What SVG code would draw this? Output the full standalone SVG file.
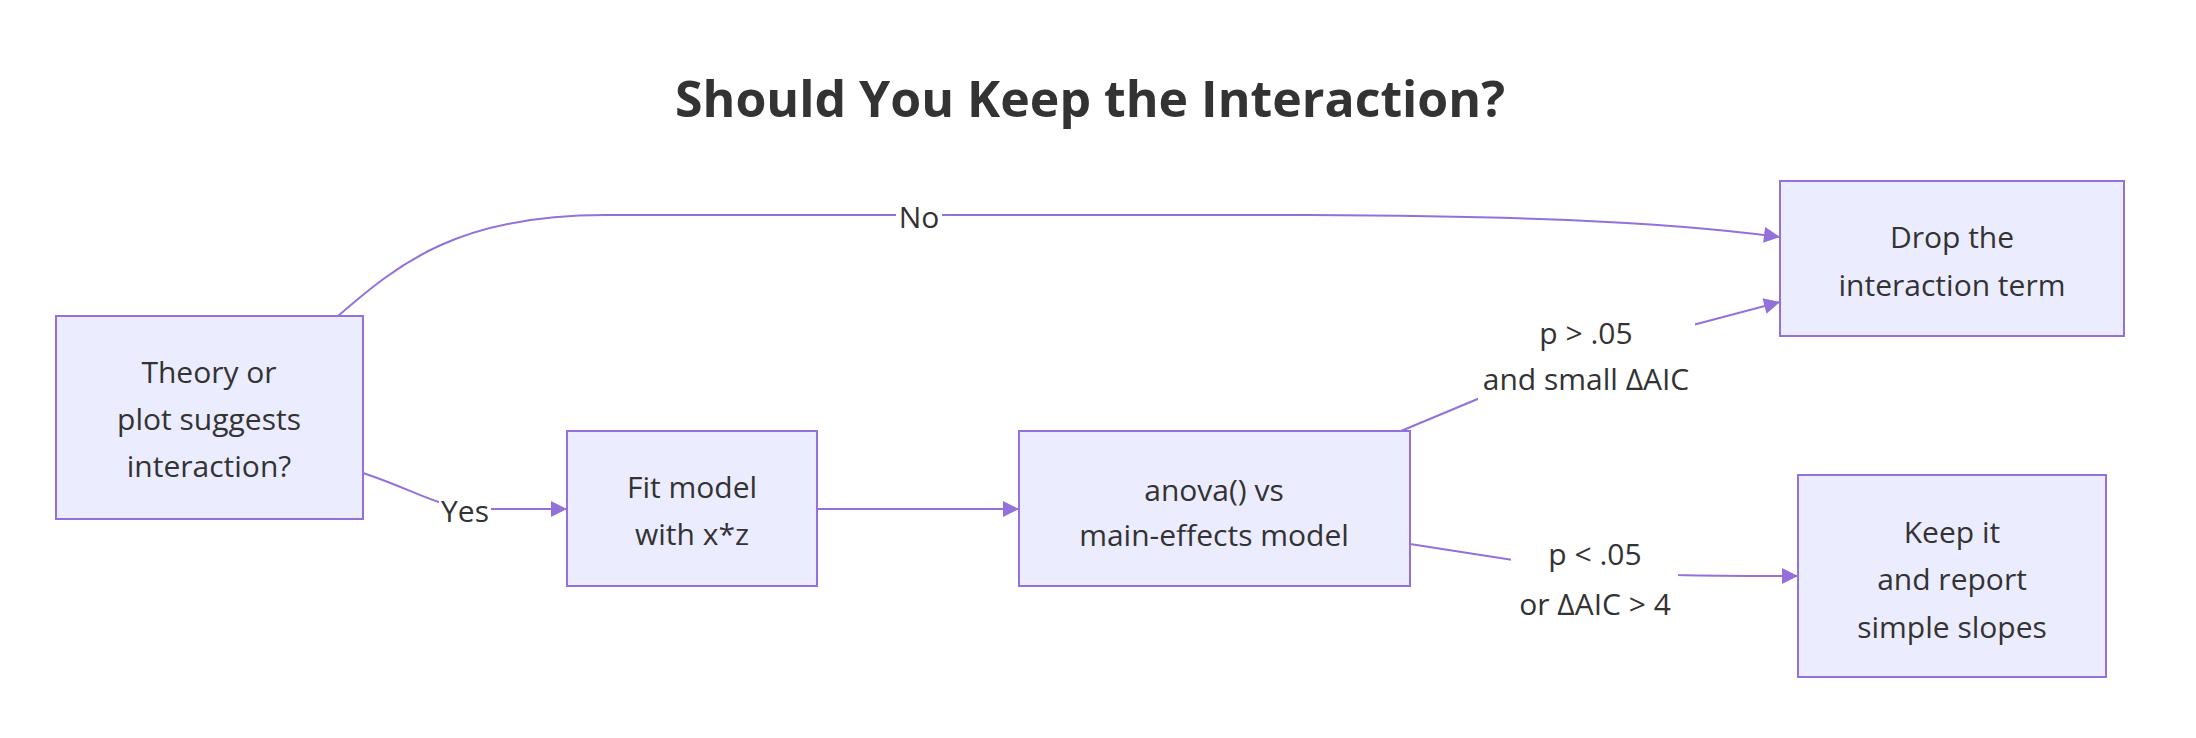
<svg xmlns="http://www.w3.org/2000/svg" width="2196" height="738" viewBox="0 0 2196 738">
<style>
.n rect{fill:#ECECFF;stroke:#9370DB;stroke-width:2}
text{font-family:"Open Sans","Liberation Sans",sans-serif;fill:#333;font-size:30px;text-anchor:middle;dominant-baseline:central}
.e path{fill:none;stroke:#9370DB;stroke-width:2}
.lb{fill:#fff}
</style>
<defs><marker id="a" viewBox="0 0 10 10" refX="10" refY="5" markerWidth="8" markerHeight="8" markerUnits="userSpaceOnUse" orient="auto" overflow="visible"><path d="M0,0L10,5L0,10z" fill="#9370DB" transform="scale(2) translate(-5,-2.5)"/></marker></defs>
<rect width="2196" height="738" fill="#fff"/>
<text x="1090" y="98" style="font-size:50px;font-weight:bold">Should You Keep the Interaction?</text>
<g class="e">
<path d="M338,316 C400,262 460,215 605,215 L1310,215 C1500,216 1650,220 1780,237" marker-end="url(#a)"/>
<path d="M363,473 C420,492 440,509 480,509 L567,509" marker-end="url(#a)"/>
<path d="M817,509 L1019,509" marker-end="url(#a)"/>
<path d="M1401,431 L1480,398 M1480,398 L1693,325 L1780,302" marker-end="url(#a)"/>
<path d="M1410,544 L1513,560 L1676,575 C1720,576 1760,576 1798,576" marker-end="url(#a)"/>
<rect class="lb" x="896" y="199" width="46" height="32"/>
<text x="919" y="216">No</text>
<rect class="lb" x="439" y="494" width="52" height="32"/>
<text x="465" y="510">Yes</text>
<rect class="lb" x="1478" y="310" width="217" height="90"/>
<text x="1586" y="332">p &gt; .05</text>
<text x="1586" y="378">and small ΔAIC</text>
<rect class="lb" x="1511" y="530" width="167" height="95"/>
<text x="1595" y="553">p &lt; .05</text>
<text x="1595" y="603">or ΔAIC &gt; 4</text>
</g>
<g class="n" id="A"><rect x="56" y="316" width="307" height="203"/><text x="209" y="371">Theory or</text><text x="209" y="418">plot suggests</text><text x="209" y="465">interaction?</text></g>
<g class="n" id="B"><rect x="567" y="431" width="250" height="155"/><text x="692" y="486">Fit model</text><text x="692" y="533">with x*z</text></g>
<g class="n" id="C"><rect x="1019" y="431" width="391" height="155"/><text x="1214" y="489">anova() vs</text><text x="1214" y="534">main-effects model</text></g>
<g class="n" id="D"><rect x="1780" y="181" width="344" height="155"/><text x="1952" y="236">Drop the</text><text x="1952" y="284">interaction term</text></g>
<g class="n" id="E"><rect x="1798" y="475" width="308" height="202"/><text x="1952" y="531">Keep it</text><text x="1952" y="578">and report</text><text x="1952" y="626">simple slopes</text></g>
</svg>
